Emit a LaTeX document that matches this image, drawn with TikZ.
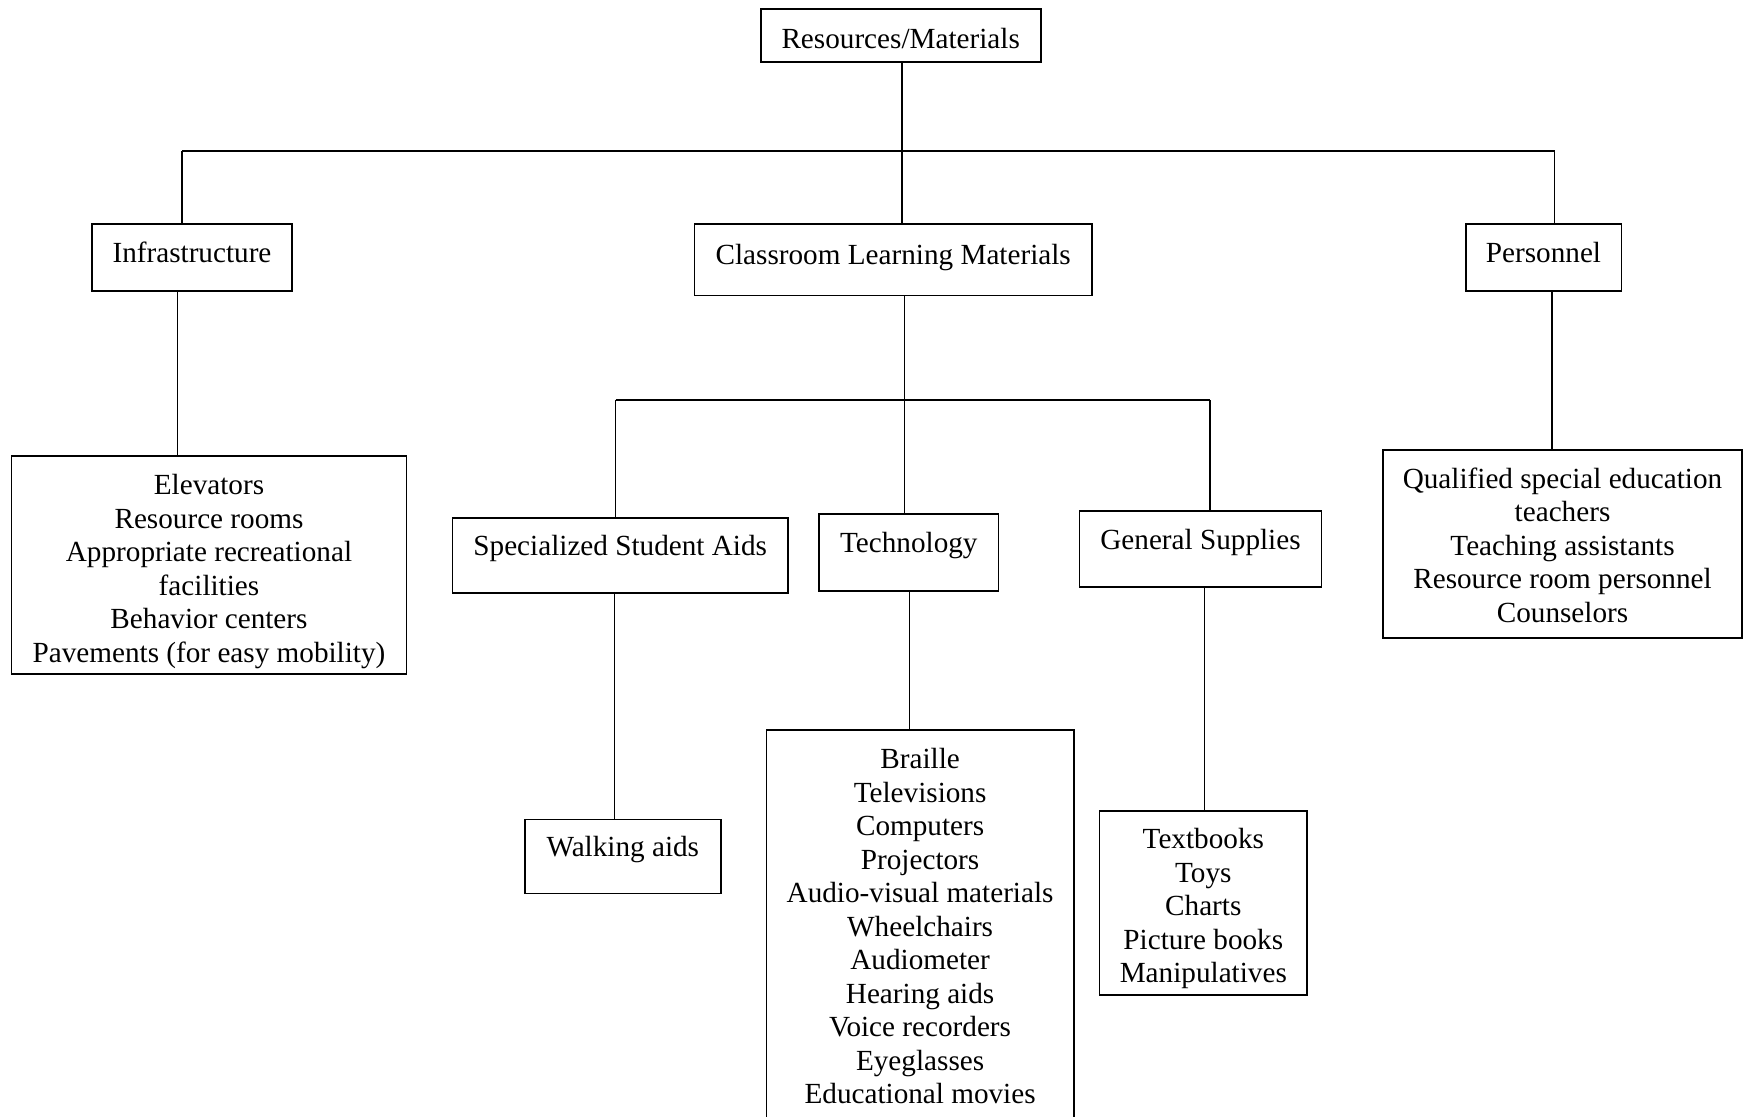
\documentclass[tikz,border=0pt]{standalone}
\usepackage{fontspec}
\setmainfont{Liberation Serif}
\newcommand{\mytop}[1]{\rule{0pt}{#1}}
\newcommand{\mybot}[1]{\rule[-#1]{0pt}{#1}}
\begin{document}
\begin{tikzpicture}[x=0.5pt,y=-0.5pt,
  every node/.style={font=\fontsize{14.6}{16.75}\selectfont, inner sep=0pt, outer sep=0pt},
  box/.style={draw=black, line width=0.8pt, rectangle, align=center},
  conn/.style={draw=black, line width=0.7pt}]
\fill[white] (0,0) rectangle (1743,1117);
\useasboundingbox (0,0) rectangle (1743,1117);

% level 0
\node[box, minimum width=140pt, minimum height=26.5pt, text height=16.5pt, text depth=3.5pt] (root) at (900.7,35.8) {Resources/Materials};

% level 1
\node[box, minimum width=100pt, minimum height=33.65pt, text height=10.5pt, text depth=5.8pt] (infra) at (192,257.4) {Infrastructure};
\node[box, minimum width=198.65pt, minimum height=35.65pt, text height=10.5pt, text depth=5.6pt] (clm) at (893.2,259.7) {Classroom Learning Materials};
\node[box, minimum width=77.8pt, minimum height=33.65pt, text height=10.5pt, text depth=5.8pt] (pers) at (1543.5,257.4) {Personnel};

% lists of level 1
\node[box, minimum width=197.45pt, minimum height=109pt] (infralist) at (209,565)
  {\mytop{17.1pt}Elevators\\Resource rooms\\Appropriate recreational\\facilities\\Behavior centers\\Pavements (for easy mobility)\mybot{3.5pt}};
\node[box, minimum width=179.5pt, minimum height=94pt] (perslist) at (1562.5,544)
  {\mytop{13pt}Qualified special education\\teachers\\Teaching assistants\\Resource room personnel\\Counselors\mybot{2pt}};

% level 2
\node[box, minimum width=167.65pt, minimum height=37.6pt, text height=10.5pt, text depth=10.5pt] (spec) at (620.2,555.3) {Specialized Student Aids};
\node[box, minimum width=89.75pt, minimum height=38.5pt, text height=10.5pt, text depth=10.5pt] (tech) at (908.8,552.5) {Technology};
\node[box, minimum width=120.95pt, minimum height=38.25pt, text height=10.5pt, text depth=10.5pt] (gen) at (1200.5,549) {General Supplies};

% level 3
\node[box, minimum width=98pt, minimum height=36.95pt, text height=10.5pt, text depth=10.5pt] (walk) at (622.8,856.6) {Walking aids};
\node[box, minimum width=153.8pt, minimum height=200.1pt] (techlist) at (920.1,929.9)
  {\mytop{10.5pt}Braille\\Televisions\\Computers\\Projectors\\Audio-visual materials\\Wheelchairs\\Audiometer\\Hearing aids\\Voice recorders\\Eyeglasses\\Educational movies\mybot{4.15pt}};
\node[box, minimum width=103.75pt, minimum height=92.1pt] (genlist) at (1203.3,903.1)
  {\mytop{16pt}Textbooks\\Toys\\Charts\\Picture books\\Manipulatives\mybot{3.5pt}};

% junction coordinates
\coordinate (b1L) at (182,151);
\coordinate (b1M) at (902,151);
\coordinate (b1R) at (1554.5,151);
\coordinate (b2L) at (615.5,400);
\coordinate (b2M) at (904.5,400);
\coordinate (b2R) at (1210,400);
\coordinate (xI) at (177.5,0);
\coordinate (xP) at (1552,0);
\coordinate (xS) at (614.5,0);
\coordinate (xT) at (909.5,0);
\coordinate (xG) at (1204.5,0);

% connectors
\draw[conn] (root.south -| b1M) -- (b1M);
\draw[conn] (b1L) -- (b1R);
\draw[conn] (b1L) -- (b1L |- infra.north);
\draw[conn] (b1M) -- (b1M |- clm.north);
\draw[conn] (b1R) -- (b1R |- pers.north);
\draw[conn] (infra.south -| xI) -- (infralist.north -| xI);
\draw[conn] (pers.south -| xP) -- (perslist.north -| xP);
\draw[conn] (clm.south -| b2M) -- (tech.north -| b2M);
\draw[conn] (b2L) -- (b2R);
\draw[conn] (b2L) -- (b2L |- spec.north);
\draw[conn] (b2R) -- (b2R |- gen.north);
\draw[conn] (spec.south -| xS) -- (walk.north -| xS);
\draw[conn] (tech.south -| xT) -- (techlist.north -| xT);
\draw[conn] (gen.south -| xG) -- (genlist.north -| xG);
\end{tikzpicture}
\end{document}
